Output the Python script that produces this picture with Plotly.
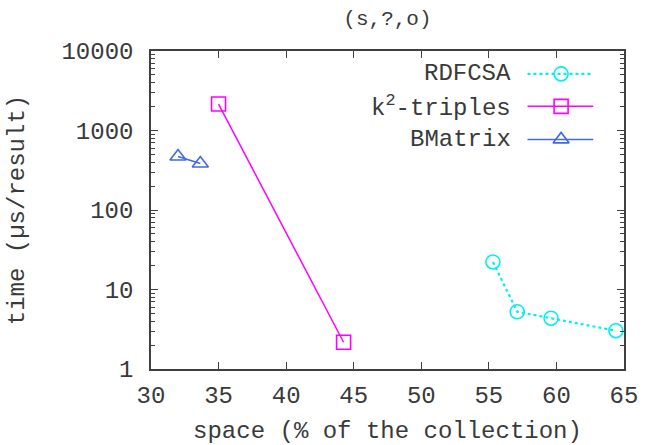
import plotly.graph_objects as go

# ---- data ----
rdfcsa_x = [55.3, 57.1, 59.6, 64.4]
rdfcsa_y = [22.2, 5.25, 4.35, 3.03]
k2_x = [35.0, 44.25]
k2_y = [2150, 2.17]
bm_x = [32.0, 33.65]
bm_y = [470, 385]

names = ["RDFCSA", "k<sup>2</sup>-triples", "BMatrix"]
colors = ["#00f0f0", "#ff00ff", "#4169e1"]
symbols = ["circle-open", "square-open", "triangle-up-open"]
dashes = ["dot", "solid", "solid"]
widths = [2.2, 1.5, 1.5]

x_ticks = [30, 35, 40, 45, 50, 55, 60, 65]
y_ticks = [1, 10, 100, 1000, 10000]
y_tick_text = ["1", "10", "100", "1000", "10000"]

FONT = "Liberation Mono, Courier New, monospace"
AX = "#404040"
TXT = "#3a3a3a"
FS = 24

fig = go.Figure()
series = [(rdfcsa_x, rdfcsa_y), (k2_x, k2_y), (bm_x, bm_y)]
for (xs, ys), c, s, d, w in zip(series, colors, symbols, dashes, widths):
    fig.add_trace(go.Scatter(
        x=xs, y=ys, mode="lines+markers",
        line=dict(color=c, width=w, dash=d),
        marker=dict(symbol=s, size=14, color=c, line=dict(color=c, width=1.6)),
        showlegend=False))

# gnuplot-style key (text left, sample right), drawn on a hidden overlay axis
key_rows = [0.928, 0.826, 0.722]
for nm, c, s, d, w, ry in zip(names, colors, symbols, dashes, widths, key_rows):
    fig.add_trace(go.Scatter(
        x=[0.796, 0.867, 0.935], y=[ry, ry, ry], xaxis="x2", yaxis="y2",
        mode="lines", line=dict(color=c, width=w, dash=d), showlegend=False,
        hoverinfo="skip"))
    fig.add_trace(go.Scatter(
        x=[0.867], y=[ry], xaxis="x2", yaxis="y2", mode="markers",
        marker=dict(symbol=s, size=14, color=c, line=dict(color=c, width=1.6)),
        showlegend=False, hoverinfo="skip"))
    fig.add_annotation(x=0.765, y=ry, xref="paper", yref="paper", text=nm,
                       showarrow=False, xanchor="right", yanchor="middle",
                       font=dict(family=FONT, size=FS, color=TXT))

minor_y = [m * 10 ** e for e in range(0, 4) for m in range(2, 10)]

fig.update_layout(
    width=649, height=445,
    margin=dict(l=151, r=25, t=51, b=76),
    paper_bgcolor="white", plot_bgcolor="white",
    font=dict(family=FONT, size=FS, color=TXT),
    title=dict(text="(s,?,o)", x=0.597, xanchor="center", y=0.96, yanchor="middle",
               font=dict(family=FONT, size=21, color=TXT)),
    xaxis=dict(range=[30, 65], tickvals=x_ticks, ticks="inside", ticklen=7,
               tickcolor=AX, tickwidth=1, showline=True, linecolor=AX, linewidth=1.5,
               mirror="allticks", showgrid=False, zeroline=False, ticklabelstandoff=3,
               automargin=False,
               tickfont=dict(family=FONT, size=FS, color=TXT),
               title=dict(text="space (% of the collection)", standoff=15,
                          font=dict(family=FONT, size=FS, color=TXT))),
    yaxis=dict(type="log", range=[0, 4], tickvals=y_ticks, ticktext=y_tick_text,
               ticks="inside", ticklen=7, tickcolor=AX, tickwidth=1,
               showline=True, linecolor=AX, linewidth=1.5, mirror="allticks",
               showgrid=False, zeroline=False, ticklabelstandoff=11,
               automargin=False,
               minor=dict(tickvals=minor_y, ticks="inside", ticklen=4,
                          tickcolor=AX, showgrid=False),
               tickfont=dict(family=FONT, size=FS, color=TXT),
               title=dict(text="time (µs/result)", standoff=30,
                          font=dict(family=FONT, size=FS, color=TXT))),
    xaxis2=dict(overlaying="x", range=[0, 1], visible=False),
    yaxis2=dict(overlaying="y", range=[0, 1], visible=False),
)

fig.write_html("out.html")
